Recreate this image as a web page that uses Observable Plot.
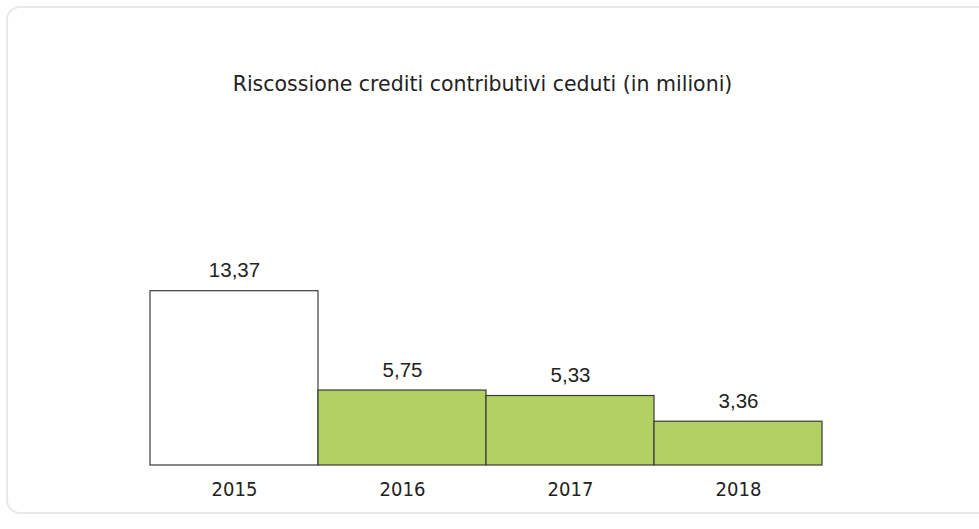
<!DOCTYPE html>
<html>
<head>
<meta charset="utf-8">
<script src="https://cdn.jsdelivr.net/npm/d3@7"></script>
<script src="https://cdn.jsdelivr.net/npm/@observablehq/plot@0.6"></script>
<style>
  html, body { margin: 0; padding: 0; background: #fff; }
  #wrap { position: relative; width: 979px; height: 529px; overflow: hidden; }
  #frame { position: absolute; left: 6px; top: 6px; width: 1000px; height: 508px;
           border: 2px solid #e8e8e8; border-radius: 14px; box-sizing: border-box; }
  #chart { position: absolute; left: 0; top: 0; }
</style>
</head>
<body>
<div id="wrap"><div id="frame"></div><div id="chart"></div></div>
<script>
const title = "Riscossione crediti contributivi ceduti (in milioni)";
const years = ["2015", "2016", "2017", "2018"];
const values = [13.37, 5.75, 5.33, 3.36];
const labels = ["13,37", "5,75", "5,33", "3,36"];
const fills = ["#ffffff", "#b3d163", "#b3d163", "#b3d163"];

const data = years.map((y, i) => ({year: y, value: values[i], label: labels[i], fill: fills[i]}));

const chart = Plot.plot({
  width: 979,
  height: 529,
  marginLeft: 150,
  marginRight: 157,
  marginTop: 100,
  marginBottom: 64,
  style: {background: "transparent", overflow: "visible"},
  x: {domain: years, padding: 0, label: null, tickSize: 0, tickPadding: 16},
  y: {domain: [0, 28], axis: null},
  marks: [
    Plot.barY(data, {x: "year", y: "value", fill: "fill", stroke: "#3a3a3a", strokeWidth: 1.2, inset: 0}),
    Plot.text(data, {x: "year", y: "value", text: "label", lineAnchor: "bottom", dy: -14,
      fontSize: 20.5, fill: "#222", fontFamily: "Liberation Sans, Arial, sans-serif"}),
    Plot.text([title], {frameAnchor: "top", dy: -24, dx: -4, fontSize: 20.5, fill: "#222",
      fontFamily: "DejaVu Sans, sans-serif"}),
    Plot.axisX({tickSize: 0, tickPadding: 16, fontSize: 20, label: null,
      fontFamily: "DejaVu Sans Condensed, DejaVu Sans, sans-serif", color: "#222"})
  ]
});
document.getElementById("chart").appendChild(chart);
</script>
</body>
</html>
